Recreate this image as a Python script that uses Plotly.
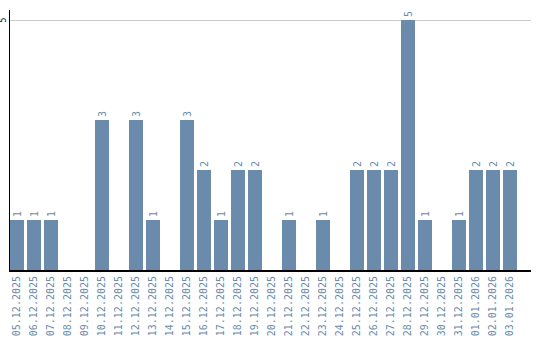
import plotly.graph_objects as go

dates = ["05.12.2025", "06.12.2025", "07.12.2025", "08.12.2025", "09.12.2025",
         "10.12.2025", "11.12.2025", "12.12.2025", "13.12.2025", "14.12.2025",
         "15.12.2025", "16.12.2025", "17.12.2025", "18.12.2025", "19.12.2025",
         "20.12.2025", "21.12.2025", "22.12.2025", "23.12.2025", "24.12.2025",
         "25.12.2025", "26.12.2025", "27.12.2025", "28.12.2025", "29.12.2025",
         "30.12.2025", "31.12.2025", "01.01.2026", "02.01.2026", "03.01.2026"]
values = [1, 1, 1, 0, 0, 3, 0, 3, 1, 0, 3, 2, 1, 2, 2, 0, 1, 0, 1, 0,
          2, 2, 2, 5, 1, 0, 1, 2, 2, 2]
labels = [str(v) if v > 0 else "" for v in values]
y_ticks = [5]

bar_color = "#6a8bab"
font_family = "DejaVu Sans Mono"

fig = go.Figure(go.Bar(
    x=dates, y=values, text=labels, textposition="outside",
    textangle=-90, cliponaxis=False,
    textfont=dict(family=font_family, size=10, color=bar_color),
    marker=dict(color=bar_color, line=dict(width=0)),
))
fig.update_layout(
    width=540, height=340,
    margin=dict(l=10, r=9, t=10, b=70),
    paper_bgcolor="white", plot_bgcolor="white",
    showlegend=False, bargap=3/17,
    font=dict(family=font_family, size=10, color=bar_color),
)
fig.update_xaxes(
    type="category", range=[-7/17, -7/17 + 521/17],
    showline=True, linecolor="black", linewidth=2,
    showgrid=False, ticks="", tickangle=-90, automargin=False,
    tickfont=dict(family=font_family, size=10, color=bar_color),
)
fig.update_yaxes(
    range=[0, 5.2], tickvals=y_ticks, showticklabels=False,
    showline=True, linecolor="black", linewidth=1, automargin=False,
    showgrid=True, gridcolor="#cccccc", gridwidth=1,
    zeroline=False, ticks="",
)
for t in y_ticks:
    fig.add_annotation(
        x=0, xref="paper", y=t, yref="y", text=str(t), showarrow=False,
        textangle=-90, xanchor="right", yanchor="middle", xshift=-1,
        font=dict(family=font_family, size=8, color="black"),
    )
fig.write_html("out.html")
